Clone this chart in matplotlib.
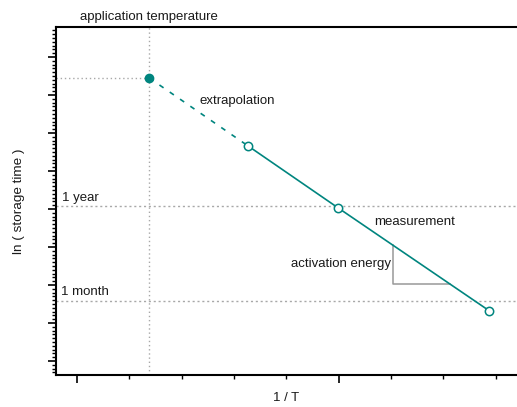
import matplotlib
matplotlib.use("Agg")
import matplotlib.pyplot as plt
from matplotlib.ticker import MultipleLocator

plt.rcParams['font.family'] = ['Liberation Sans', 'DejaVu Sans']

# data (x: 1/T in tick units, y: ln(storage time / h))
x_app = 1.38
y_app = 12.45
x_meas = [3.27, 4.99, 7.88]
y_meas = [10.66, 9.03, 6.32]
ln_year = 9.08
ln_month = 6.59
tri_x = [6.04, 7.13]
tri_y = [8.05, 7.03]

teal = '#00857f'
grid_c = '#a8a8a8'
txt_c = '#1a1a1a'

fig = plt.figure(figsize=(5.17, 4.07), dpi=100)
ax = fig.add_axes([56/517, 32/407, 461/517, 348/407])
ax.set_xlim(-0.40, 8.41)
ax.set_ylim(4.63, 13.79)

# reference lines
ax.axvline(x_app, color=grid_c, ls=(0, (1, 2)), lw=1, zorder=1)
ax.plot([-0.40, x_app], [y_app, y_app], color=grid_c, ls=(0, (1, 2)), lw=1, zorder=1)
ax.axhline(ln_year, color=grid_c, ls=(0, (1.5, 2)), lw=1, zorder=1)
ax.axhline(ln_month, color=grid_c, ls=(0, (1.5, 2)), lw=1, zorder=1)

# activation energy triangle
ax.plot([tri_x[0], tri_x[0], tri_x[1]], [tri_y[0], tri_y[1], tri_y[1]],
        color='#999999', lw=1.1, zorder=2)

# extrapolation and measurement
ax.plot([x_app, x_meas[0]], [y_app, y_meas[0]], color=teal, lw=1.2,
        ls=(0, (3, 4.5)), zorder=3)
ax.plot(x_meas, y_meas, color=teal, lw=1.2, zorder=3)
ax.plot(x_meas, y_meas, 'o', ms=6, mfc='white', mec=teal, mew=1.1, zorder=4)
ax.plot([x_app], [y_app], 'o', ms=6, mfc=teal, mec=teal, zorder=4)

# texts
fs = 9.5
ax.text(x_app, 14.05, 'application temperature', ha='center', va='center', fontsize=fs,
        color=txt_c, clip_on=False)
ax.text(2.35, 11.84, 'extrapolation', ha='left', va='center', fontsize=fs, color=txt_c)
ax.text(5.68, 8.66, 'measurement', ha='left', va='center', fontsize=fs, color=txt_c)
ax.text(6.0, 7.55, 'activation energy', ha='right', va='center', fontsize=fs, color=txt_c)
ax.text(-0.29, 9.29, '1 year', ha='left', va='center', fontsize=fs, color=txt_c)
ax.text(-0.31, 6.82, '1 month', ha='left', va='center', fontsize=fs, color=txt_c)

ax.set_xlabel('1 / T', fontsize=9.5, labelpad=6, color=txt_c)
ax.set_ylabel('ln ( storage time )', fontsize=9.7, labelpad=16, color=txt_c)

# ticks
ax.xaxis.set_major_locator(MultipleLocator(5))
ax.xaxis.set_minor_locator(MultipleLocator(1))
ax.yaxis.set_major_locator(MultipleLocator(1))
ax.yaxis.set_minor_locator(MultipleLocator(0.1))
ax.tick_params(axis='both', which='major', direction='out', length=6, width=1.2,
               labelbottom=False, labelleft=False)
ax.tick_params(axis='both', which='minor', direction='out', length=3, width=1.0)

ax.spines['right'].set_visible(False)
for s in ['left', 'bottom', 'top']:
    ax.spines[s].set_linewidth(1.5)

fig.savefig('out.png', dpi=100)
